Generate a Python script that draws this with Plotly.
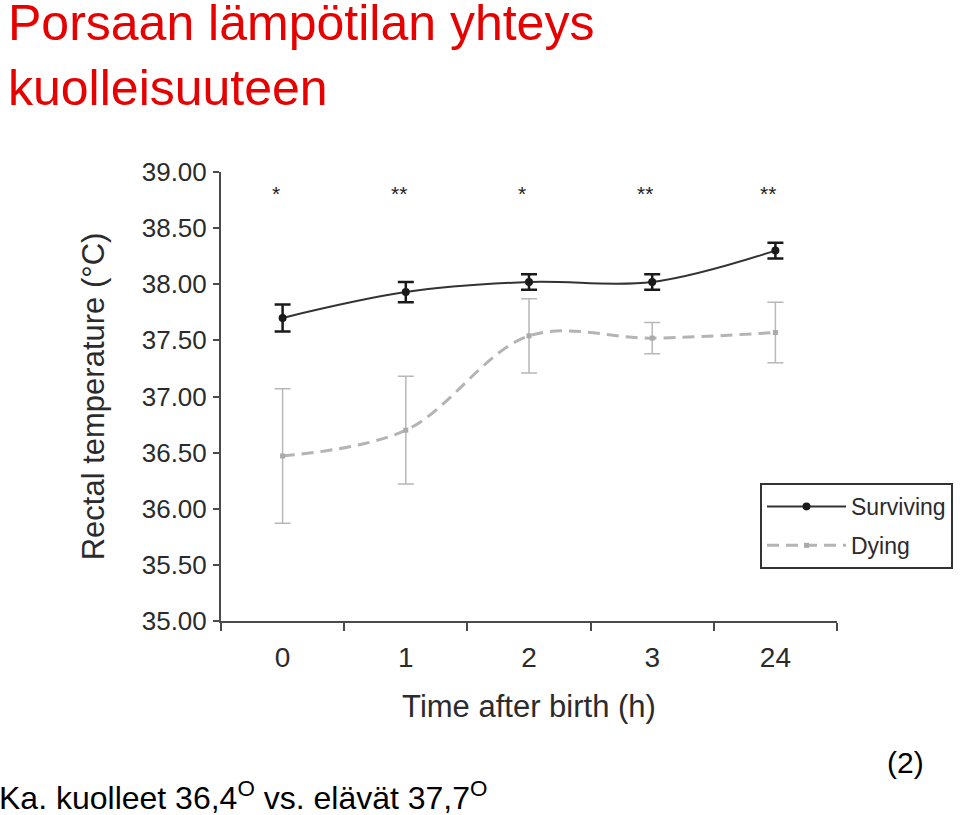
import plotly.graph_objects as go

categories = ["0", "1", "2", "3", "24"]
surviving = [37.70, 37.93, 38.02, 38.02, 38.30]
surviving_err = [0.12, 0.09, 0.07, 0.07, 0.07]
dying = [36.47, 36.70, 37.54, 37.52, 37.57]
dying_err = [0.60, 0.48, 0.33, 0.14, 0.27]
stars = ["*", "**", "*", "**", "**"]
star_y = 38.81
y_ticks = [35.0, 35.5, 36.0, 36.5, 37.0, 37.5, 38.0, 38.5, 39.0]

FONT = "Liberation Sans, Arial, Helvetica, sans-serif"
AX = "#4a4a4a"
TXT = "#2b2b2b"

W, H = 960, 815
L, R, T, B = 221, 123, 172, 194
PW, PH = W - L - R, H - T - B


def px(x):
    return (x - L) / PW


def py(y):
    return (H - B - y) / PH


fig = go.Figure()

fig.add_trace(go.Scatter(
    x=categories, y=surviving, name="Surviving", legendgroup="a", legendrank=1,
    mode="lines+markers",
    line=dict(color="#333333", width=2, shape="spline", smoothing=1.0),
    marker=dict(symbol="circle", size=8, color="#1a1a1a"),
    error_y=dict(type="data", array=surviving_err, color="#1a1a1a", thickness=2.5, width=8),
))

fig.add_trace(go.Scatter(
    x=categories, y=dying, name="Dying", legendgroup="b", legendrank=2,
    mode="lines+markers",
    line=dict(color="#b4b4b4", width=3, dash="12px,7px", shape="spline", smoothing=1.0),
    marker=dict(symbol="square", size=5, color="#aaaaaa"),
    error_y=dict(type="data", array=dying_err, color="#b8b8b8", thickness=1.5, width=8),
))

for i, s in enumerate(stars):
    fig.add_annotation(x=i, y=star_y, xref="x", yref="y", text=s, showarrow=False,
                       xshift=-7, font=dict(family=FONT, size=21, color="#222222"))

fig.add_annotation(xref="paper", yref="paper", x=px(6), y=py(-7), xanchor="left", yanchor="top",
                   text="Porsaan lämpötilan yhteys<br>kuolleisuuteen", align="left", showarrow=False,
                   font=dict(family=FONT, size=50, color="#e60000"))

fig.add_annotation(xref="paper", yref="paper", x=px(-3), y=py(796), xanchor="left", yanchor="middle",
                   text="Ka. kuolleet 36,4<sup>O</sup> vs. elävät 37,7<sup>O</sup>", showarrow=False,
                   font=dict(family=FONT, size=32, color="black"))

fig.add_annotation(xref="paper", yref="paper", x=px(905), y=py(762), xanchor="center", yanchor="middle",
                   text="(2)", showarrow=False, font=dict(family=FONT, size=30, color="black"))

fig.update_layout(
    width=W, height=H,
    margin=dict(l=L, r=R, t=T, b=B, autoexpand=False),
    paper_bgcolor="white", plot_bgcolor="white",
    font=dict(family=FONT, color=TXT),
    showlegend=True,
    legend=dict(
        x=px(760), y=py(483), xanchor="left", yanchor="top",
        bgcolor="white", bordercolor="#333333", borderwidth=2,
        font=dict(family=FONT, size=23, color=TXT),
        traceorder="grouped", tracegroupgap=6,
        itemwidth=79,
    ),
    xaxis=dict(
        type="category", categoryorder="array", categoryarray=categories,
        range=[-0.5, 4.5],
        showline=True, linecolor=AX, linewidth=2, mirror=False,
        ticks="outside", tickson="boundaries", ticklen=8, tickwidth=2, tickcolor=AX,
        showgrid=False, zeroline=False,
        tickfont=dict(family=FONT, size=28, color=TXT),
        ticklabelstandoff=10,
        title=dict(text="Time after birth (h)", font=dict(family=FONT, size=31, color=TXT), standoff=24),
    ),
    yaxis=dict(
        range=[35, 39], tickvals=y_ticks, tickformat=".2f",
        showline=True, linecolor=AX, linewidth=2,
        ticks="outside", ticklen=6, tickwidth=1.5, tickcolor=AX,
        showgrid=False, zeroline=False,
        tickfont=dict(family=FONT, size=26, color=TXT),
        ticklabelstandoff=1,
        title=dict(text="Rectal temperature (°C)", font=dict(family=FONT, size=31, color=TXT), standoff=28),
    ),
)

fig.write_html("out.html", config={"displayModeBar": False},
               post_script="document.body.style.margin='0';")
